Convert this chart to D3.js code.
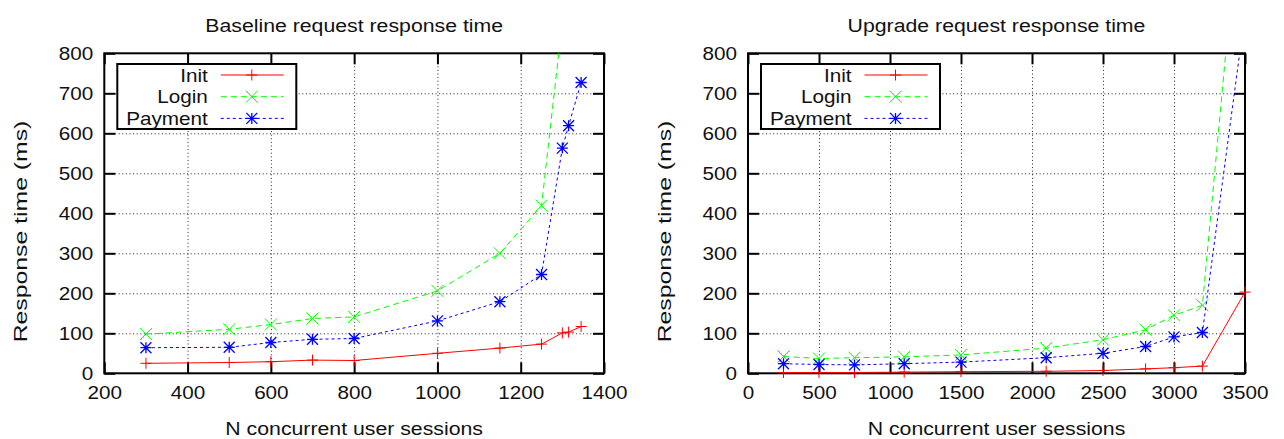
<!DOCTYPE html>
<html>
<head>
<meta charset="utf-8">
<script src="https://cdn.jsdelivr.net/npm/d3@7"></script>
<style>
body { margin: 0; background: #fff; }
svg text { font-family: "Liberation Sans", Arial, Helvetica, sans-serif; fill: #111; font-weight: normal; }
</style>
</head>
<body>
<svg id="chart" width="1284" height="439"></svg>
<script>
// series
var seriesNames = ["Init", "Login", "Payment"];

// baseline run
var baseSessions = [300, 500, 600, 700, 800, 1000, 1150, 1250, 1300, 1315, 1345];
var baseInit     = [25, 27, 29, 33, 32, 50, 63, 73, 101, 103, 117];
var baseLogin    = [98, 110, 122, 137, 141, 206, 300, 419, 880, 1000, 1200];
var basePayment  = [64, 65, 77, 85, 87, 131, 179, 247, 563, 619, 727];

// upgrade run
var upSessions = [250, 500, 750, 1100, 1500, 2100, 2500, 2800, 3000, 3200, 3500];
var upInit     = [2, 2, 2, 3, 4, 5, 7, 11, 14, 18, 203];
var upLogin    = [42, 37, 39, 41, 46, 63, 84, 109, 145, 170, 1320];
var upPayment  = [24, 22, 21, 24, 28, 39, 50, 67, 91, 102, 900];

// tick labels
var yTicks = [0, 100, 200, 300, 400, 500, 600, 700, 800];
var baseXTicks = [200, 400, 600, 800, 1000, 1200, 1400];
var upXTicks = [0, 500, 1000, 1500, 2000, 2500, 3000, 3500];

var colors = ["#ff0000", "#00ff00", "#0000ff"];
var dashes = [null, "6,4", "3,3"];
var SX = 1.15;               // text looks a bit stretched wide
var yTop = 53.3, yBottom = 373.3;
var fmt = d3.format("d");

var svg = d3.select("#chart");

svg.append("defs");

function markerPath(i) {
    var s = 5.5;
    var plus = "M" + (-s) + ",0H" + s + "M0," + (-s) + "V" + s;
    var cross = "M" + (-s) + "," + (-s) + "L" + s + "," + s + "M" + (-s) + "," + s + "L" + s + "," + (-s);
    if (i == 0) return plus;
    if (i == 1) return "M-6,-6L6,6M-6,6L6,-6";
    return plus + cross;
}

function stretchText(sel) {
    sel.attr("transform", "scale(" + SX + ",1)")
        .attr("x", function () { return (+d3.select(this).attr("x") || 0) / SX; });
}

function panel(cfg, idx) {
    var g = svg.append("g");
    var x = d3.scaleLinear().domain(cfg.xDomain).range([cfg.left, cfg.right]);
    var y = d3.scaleLinear().domain([0, 800]).range([yBottom, yTop]);
    var w = cfg.right - cfg.left, h = yBottom - yTop;

    svg.select("defs").append("clipPath").attr("id", "clip" + idx)
        .append("rect").attr("x", cfg.left).attr("y", yTop).attr("width", w).attr("height", h);

    //grid
    var gy = g.append("g").attr("transform", "translate(" + cfg.left + ",0)")
        .call(d3.axisLeft(y).tickValues(yTicks.slice(1, -1)).tickSize(-w).tickFormat(""));
    var gx = g.append("g").attr("transform", "translate(0," + yBottom + ")")
        .call(d3.axisBottom(x).tickValues(cfg.xTicks.slice(1, -1)).tickSize(-h).tickFormat(""));
    [gy, gx].forEach(function (a) {
        a.select(".domain").remove();
        a.selectAll("line").attr("stroke", "#222").attr("stroke-dasharray", "1,2.6");
    });

    // legend box (covers the grid)
    var lx = cfg.left + 13, ly = yTop + 10.7;
    g.append("rect").attr("x", lx).attr("y", ly).attr("width", 179).attr("height", 65)
        .attr("fill", "#fff").attr("stroke", "#000").attr("stroke-width", 2);

    // ticks on all four sides, pointing in
    var left = g.append("g").attr("transform", "translate(" + cfg.left + ",0)")
        .call(d3.axisLeft(y).tickValues(yTicks).tickSize(-11).tickPadding(11).tickFormat(fmt));
    var right = g.append("g").attr("transform", "translate(" + cfg.right + ",0)")
        .call(d3.axisRight(y).tickValues(yTicks).tickSize(-11).tickFormat(""));
    var bottom = g.append("g").attr("transform", "translate(0," + yBottom + ")")
        .call(d3.axisBottom(x).tickValues(cfg.xTicks).tickSize(-11).tickPadding(13).tickFormat(fmt));
    var topAx = g.append("g").attr("transform", "translate(0," + yTop + ")")
        .call(d3.axisTop(x).tickValues(cfg.xTicks).tickSize(-11).tickFormat(""));
    [left, right, bottom, topAx].forEach(function (a) {
        a.select(".domain").remove();
        a.attr("font-size", 18).attr("font-family", null);
        a.selectAll("line").attr("stroke", "#000").attr("stroke-width", 2);
    });
    stretchText(left.selectAll("text"));
    stretchText(bottom.selectAll("text"));

    g.append("rect").attr("x", cfg.left).attr("y", yTop).attr("width", w).attr("height", h)
        .attr("fill", "none").attr("stroke", "#000").attr("stroke-width", 2);

    // data
    var line = d3.line().x(function (d) { return x(d.s); }).y(function (d) { return y(d.v); });
    cfg.series.forEach(function (vals, i) {
        var pts = cfg.sessions.map(function (s, k) { return {s: s, v: vals[k]}; });
        g.append("path").datum(pts)
            .attr("clip-path", "url(#clip" + idx + ")")
            .attr("d", line)
            .attr("fill", "none")
            .attr("stroke", colors[i])
            .attr("stroke-width", 1)
            .attr("stroke-dasharray", dashes[i]);
        g.selectAll(".m" + i).data(pts.filter(function (d) { return d.v <= 800; }))
            .enter().append("path")
            .attr("class", "m" + i)
            .attr("d", markerPath(i))
            .attr("transform", function (d) { return "translate(" + x(d.s) + "," + y(d.v) + ")"; })
            .attr("fill", "none")
            .attr("stroke", colors[i])
            .attr("stroke-width", i == 2 ? 1.3 : 1);
    });

    // legend rows
    seriesNames.forEach(function (name, i) {
        var cy = yTop + 21.7 * (i + 1);
        g.append("text")
            .attr("transform", "translate(" + (cfg.left + 103.5) + "," + (cy + 6.5) + ") scale(" + SX + ",1)")
            .attr("text-anchor", "end")
            .attr("font-size", 18)
            .text(name);
        g.append("line")
            .attr("x1", cfg.left + 116.5).attr("x2", cfg.left + 179.5)
            .attr("y1", cy).attr("y2", cy)
            .attr("stroke", colors[i])
            .attr("stroke-dasharray", dashes[i]);
        g.append("path").attr("d", markerPath(i))
            .attr("transform", "translate(" + (cfg.left + 147.5) + "," + cy + ")")
            .attr("fill", "none").attr("stroke", colors[i])
            .attr("stroke-width", i == 2 ? 1.3 : 1);
    });

    // titles
    var cx = (cfg.left + cfg.right) / 2;
    g.append("text")
        .attr("transform", "translate(" + cx + ",31.5) scale(" + SX + ",1)")
        .attr("text-anchor", "middle").attr("font-size", 18.5)
        .text(cfg.title);
    g.append("text")
        .attr("transform", "translate(" + cx + ",435) scale(" + SX + ",1)")
        .attr("text-anchor", "middle").attr("font-size", 18.5)
        .text("N concurrent user sessions");
    g.append("text")
        .attr("transform", "translate(" + (cfg.left - 77) + ",231.5) rotate(-90) scale(1.34,1)")
        .attr("text-anchor", "middle").attr("font-size", 18.5)
        .text("Response time (ms)");
}

panel({
    title: "Baseline request response time",
    left: 104.3, right: 604,
    xDomain: [200, 1400], xTicks: baseXTicks,
    sessions: baseSessions,
    series: [baseInit, baseLogin, basePayment]
}, 0);

panel({
    title: "Upgrade request response time",
    left: 748, right: 1245,
    xDomain: [0, 3500], xTicks: upXTicks,
    sessions: upSessions,
    series: [upInit, upLogin, upPayment]
}, 1);
</script>
</body>
</html>
